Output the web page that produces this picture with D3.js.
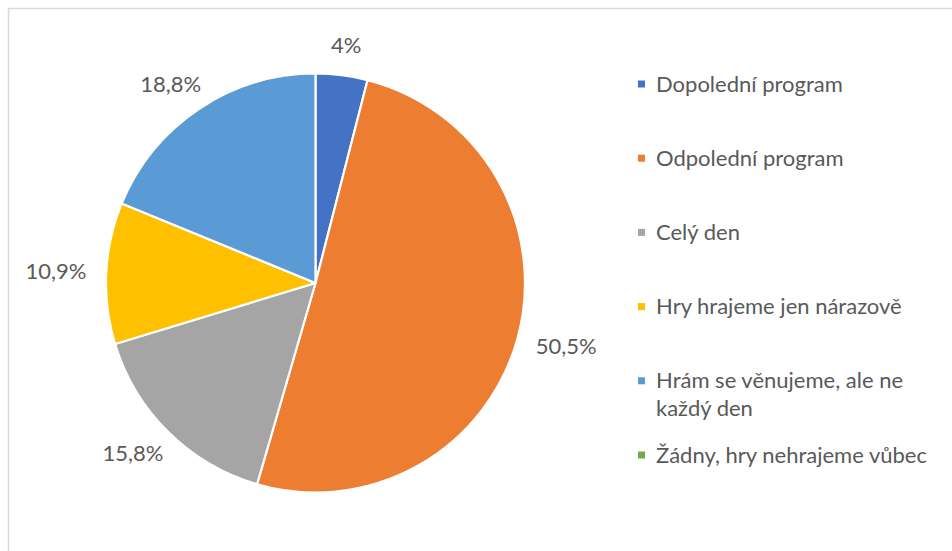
<!DOCTYPE html>
<html>
<head>
<meta charset="utf-8">
<script src="https://cdn.jsdelivr.net/npm/d3@7"></script>
<style>
  html, body { margin: 0; padding: 0; background: #fff; }
  svg { display: block; }
  text { font-family: Lato, "Open Sans", sans-serif; fill: #595959; }
</style>
</head>
<body>
<svg id="chart" width="952" height="551"></svg>
<script>
// Answer categories and their shares (%)
const categories = [
  "Dopolední program",
  "Odpolední program",
  "Celý den",
  "Hry hrajeme jen nárazově",
  "Hrám se věnujeme, ale ne každý den",
  "Žádny, hry nehrajeme vůbec"
];
const values = [4, 50.5, 15.8, 10.9, 18.8, 0];
const labels = ["4%", "50,5%", "15,8%", "10,9%", "18,8%", ""];
const legendLines = [
  ["Dopolední program"],
  ["Odpolední program"],
  ["Celý den"],
  ["Hry hrajeme jen nárazově"],
  ["Hrám se věnujeme, ale ne", "každý den"],
  ["Žádny, hry nehrajeme vůbec"]
];
const colors = ["#4472C4", "#ED7D31", "#A5A5A5", "#FFC000", "#5B9BD5", "#70AD47"];

const W = 952, H = 551;
const svg = d3.select("#chart");

// outer frame of the chart area
svg.append("rect")
  .attr("x", 8.5).attr("y", 8.5)
  .attr("width", W + 20).attr("height", H + 20)
  .attr("fill", "none")
  .attr("stroke", "#d9d9d9")
  .attr("stroke-width", 1.5);

const cx = 315.5, cy = 283, r = 209.5;
const color = d3.scaleOrdinal().domain(categories).range(colors);

const pie = d3.pie().sort(null).value(d => d.value);
const data = categories.map((c, i) => ({ cat: c, value: values[i], label: labels[i] }));
const arcs = pie(data);
const arc = d3.arc().innerRadius(0).outerRadius(r);

const g = svg.append("g").attr("transform", `translate(${cx},${cy})`);

g.selectAll("path.slice")
  .data(arcs.filter(a => a.data.value > 0))
  .join("path")
  .attr("class", "slice")
  .attr("d", arc)
  .attr("fill", d => color(d.data.cat))
  .attr("stroke", "#fff")
  .attr("stroke-width", 2.2)
  .attr("stroke-linejoin", "round");

// data labels placed just outside the slice ends
const fontSize = 22;
const labelGap = 20;
const lab = g.selectAll("text.val")
  .data(arcs.filter(a => a.data.value > 0))
  .join("text")
  .attr("class", "val")
  .attr("font-size", fontSize)
  .attr("text-anchor", "middle")
  .text(d => d.data.label);

lab.each(function(d) {
  const t = d3.select(this);
  const bb = this.getBBox();
  const mid = (d.startAngle + d.endAngle) / 2;
  const s = Math.sin(mid), c = Math.cos(mid);
  const hw = bb.width / 2, hh = fontSize * 0.45;
  const R = r + labelGap;
  const x = s * R + s * hw;
  const y = -c * R - c * hh;
  t.attr("x", x).attr("y", y + fontSize * 0.35);
});

// legend
const legX = 638, legY0 = 84, legStep = 74.2, lineH = 28;
const leg = svg.append("g");
legendLines.forEach((lines, i) => {
  const y = legY0 + i * legStep;
  leg.append("rect")
    .attr("x", legX).attr("y", y - 3.5)
    .attr("width", 7).attr("height", 7)
    .attr("fill", colors[i]);
  const t = leg.append("text")
    .attr("x", legX + 18)
    .attr("y", y + 7.5)
    .attr("font-size", fontSize);
  lines.forEach((ln, j) => {
    t.append("tspan").attr("x", legX + 18).attr("dy", j === 0 ? 0 : lineH).text(ln);
  });
});
</script>
</body>
</html>
